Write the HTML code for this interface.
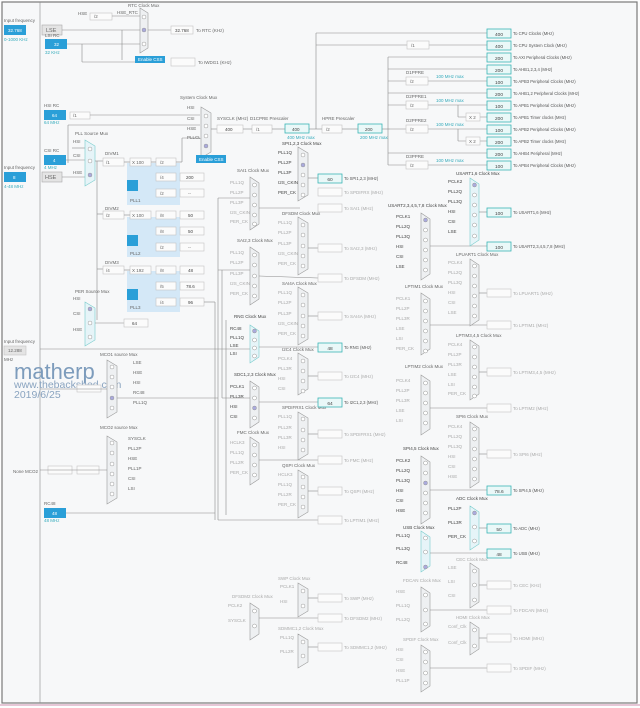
<!DOCTYPE html>
<html><head><meta charset="utf-8"><style>
html,body{margin:0;padding:0;background:#fff}
svg{display:block}
text{font-family:"Liberation Sans",sans-serif;font-size:4.5px;fill:#666}
.m{fill:#eef0f2;stroke:#999;stroke-width:.6}
.mh{fill:#e6f4f8;stroke:#7cc;stroke-width:.6}
.l{stroke:#8a8a8a;stroke-width:.6;fill:none}
.lf{stroke:#bbb;stroke-width:.5;fill:none}
.o{fill:#fbfbfb;stroke:#c4c4c4;stroke-width:.6}
.c{fill:#eaf8f8;stroke:#3ab5b5;stroke-width:.8}
.b{fill:#2a9fd8}
.g{fill:#e4e4e4;stroke:#aaa;stroke-width:.6}
.p{fill:#d4e8f7}
.ci{fill:#fff;stroke:#999;stroke-width:.5}
.t{font-size:4.2px;fill:#555}
.tc{font-size:4.8px;fill:#444;text-anchor:middle}
</style></head><body>
<svg width="640" height="708" viewBox="0 0 640 708" xmlns="http://www.w3.org/2000/svg">
<rect x="0" y="0" width="640" height="708" fill="#fdfdfd"/>
<rect x="2" y="2" width="635" height="701" fill="#f7f8f9" stroke="#7a7a7a" stroke-width="1.2"/>
<line x1="0" y1="705" x2="640" y2="705" stroke="#e6c6d6" stroke-width="2"/>
<line x1="40" y1="2" x2="40" y2="703" class="l"/>

<!-- left inputs -->
<text x="4" y="22">Input frequency</text>
<rect x="4" y="25" width="22" height="10" class="b"/><text x="8" y="32" style="fill:#fff">32.768</text>
<text x="4" y="41" style="fill:#3ab">0-1000 KHz</text>
<rect x="42" y="25" width="20" height="10" class="g"/><text x="46" y="32" style="font-size:5.5px">LSE</text>
<text x="45" y="37">LSI RC</text>
<rect x="45" y="39" width="22" height="10" class="b"/><text x="54" y="46" style="fill:#fff">32</text>
<text x="45" y="54" style="fill:#3ab">32 KHz</text>
<line x1="62" y1="30" x2="140" y2="30" class="l"/>
<line x1="67" y1="44" x2="140" y2="44" class="l"/>
<line x1="82" y1="44" x2="82" y2="62" class="l"/><line x1="82" y1="62" x2="135" y2="62" class="l"/>
<line x1="122" y1="30" x2="122" y2="60" class="l"/>

<!-- RTC -->
<text x="128" y="7">RTC Clock Mux</text>
<text x="78" y="15">HSE</text>
<rect x="90" y="13" width="22" height="7" class="o"/><text x="94" y="18">/2</text>
<text x="117" y="14">HSE_RTC</text>
<line x1="112" y1="16" x2="140" y2="16" class="l"/>
<polygon points="140,8 148,13 148,48 140,53" class="m"/>
<circle cx="144" cy="17" r="2" class="ci"/><circle cx="144" cy="30" r="2" class="ci" style="fill:#aad"/><circle cx="144" cy="44" r="2" class="ci"/>
<line x1="148" y1="30" x2="171" y2="30" class="l"/>
<rect x="171" y="26" width="22" height="8" class="o"/><text x="175" y="32" style="fill:#444">32.768</text>
<text x="196" y="32">To RTC (KHz)</text>
<rect x="135" y="56" width="30" height="7" class="b"/><text x="138" y="61" style="fill:#fff">Enable CSS</text>
<rect x="171" y="58" width="24" height="8" class="o"/><text x="198" y="64">To IWDG1 (KHz)</text>

<!-- HSI/CSI/HSE -->
<text x="44" y="107">HSI RC</text>
<rect x="44" y="110" width="22" height="10" class="b"/><text x="52" y="117" style="fill:#fff">64</text>
<text x="44" y="124" style="fill:#3ab">64 MHz</text>
<rect x="70" y="112" width="20" height="7" class="o"/><text x="73" y="117">/1</text>
<line x1="90" y1="115" x2="200" y2="115" class="l"/>
<line x1="68" y1="125" x2="200" y2="125" class="l"/><line x1="68" y1="125" x2="68" y2="163" class="l"/>
<text x="44" y="152">CSI RC</text>
<rect x="44" y="155" width="22" height="10" class="b"/><text x="53" y="162" style="fill:#fff">4</text>
<text x="44" y="169" style="fill:#3ab">4 MHz</text>
<text x="4" y="169">Input frequency</text>
<rect x="4" y="172" width="22" height="10" class="b"/><text x="13" y="179" style="fill:#fff">8</text>
<text x="4" y="188" style="fill:#3ab">4-48 MHz</text>
<rect x="42" y="172" width="20" height="10" class="g"/><text x="45" y="179" style="font-size:5.5px">HSE</text>
<line x1="62" y1="177" x2="85" y2="177" class="l"/>
<line x1="66" y1="160" x2="85" y2="160" class="l"/>

<!-- PLL source mux -->
<text x="75" y="135">PLL Source Mux</text>
<text x="73" y="143">HSI</text><text x="73" y="157">CSI</text><text x="73" y="174">HSE</text>
<line x1="72" y1="148" x2="85" y2="148" class="l"/>
<polygon points="85,140 95,146 95,180 85,186" class="mh"/>
<circle cx="90" cy="149" r="2" class="ci"/><circle cx="90" cy="161" r="2" class="ci"/><circle cx="90" cy="175" r="2" class="ci" style="fill:#aad"/>
<line x1="95" y1="161" x2="103" y2="161" class="l"/>
<line x1="97" y1="161" x2="97" y2="320" class="l"/>
<line x1="97" y1="214" x2="103" y2="214" class="l"/><line x1="97" y1="269" x2="103" y2="269" class="l"/>

<!-- PLL blocks -->
<rect x="127" y="163" width="53" height="42" class="p"/>
<rect x="127" y="217" width="53" height="40" class="p"/>
<rect x="127" y="271" width="53" height="41" class="p"/>
<rect x="127" y="180" width="11" height="11" class="b"/><rect x="127" y="235" width="11" height="11" class="b"/><rect x="127" y="289" width="11" height="11" class="b"/>
<text x="130" y="202">PLL1</text><text x="130" y="255">PLL2</text><text x="130" y="309">PLL3</text>
<text x="105" y="155">DIVM1</text><text x="105" y="210">DIVM2</text><text x="105" y="264">DIVM3</text>
<rect x="103" y="158" width="21" height="8" class="o"/><text x="106" y="164">/1</text>
<rect x="103" y="211" width="21" height="8" class="o"/><text x="106" y="217">/2</text>
<rect x="103" y="266" width="21" height="8" class="o"/><text x="106" y="272">/4</text>
<rect x="130" y="158" width="21" height="8" class="o"/><text x="132" y="164">X 100</text>
<rect x="130" y="211" width="21" height="8" class="o"/><text x="132" y="217">X 100</text>
<rect x="130" y="266" width="21" height="8" class="o"/><text x="132" y="272">X 192</text>
<line x1="124" y1="162" x2="130" y2="162" class="l"/><line x1="124" y1="215" x2="130" y2="215" class="l"/><line x1="124" y1="270" x2="130" y2="270" class="l"/>
<g>
<rect x="156" y="158" width="20" height="8" class="o"/><text x="160" y="164">/2</text>
<rect x="156" y="173" width="20" height="8" class="o"/><text x="160" y="179">/4</text>
<rect x="156" y="189" width="20" height="8" class="o"/><text x="160" y="195">/2</text>
<rect x="180" y="173" width="24" height="8" class="o"/><text x="186" y="179" style="fill:#444">200</text>
<rect x="180" y="189" width="24" height="8" class="o"/><text x="188" y="195">--</text>
<rect x="156" y="211" width="20" height="8" class="o"/><text x="160" y="217">/8</text>
<rect x="156" y="227" width="20" height="8" class="o"/><text x="160" y="233">/8</text>
<rect x="156" y="243" width="20" height="8" class="o"/><text x="160" y="249">/2</text>
<rect x="180" y="211" width="24" height="8" class="o"/><text x="188" y="217" style="fill:#444">50</text>
<rect x="180" y="227" width="24" height="8" class="o"/><text x="188" y="233" style="fill:#444">50</text>
<rect x="180" y="243" width="24" height="8" class="o"/><text x="188" y="249">--</text>
<rect x="156" y="266" width="20" height="8" class="o"/><text x="160" y="272">/8</text>
<rect x="156" y="282" width="20" height="8" class="o"/><text x="160" y="288">/5</text>
<rect x="156" y="298" width="20" height="8" class="o"/><text x="160" y="304">/4</text>
<rect x="180" y="266" width="24" height="8" class="o"/><text x="188" y="272" style="fill:#444">48</text>
<rect x="180" y="282" width="24" height="8" class="o"/><text x="186" y="288" style="fill:#444">78.6</text>
<rect x="180" y="298" width="24" height="8" class="o"/><text x="188" y="304" style="fill:#444">96</text>
</g>
<line x1="151" y1="162" x2="156" y2="162" class="l"/><line x1="176" y1="162" x2="182" y2="162" class="l"/>
<line x1="182" y1="162" x2="182" y2="138" class="l"/><line x1="182" y1="138" x2="200" y2="138" class="l"/>
<line x1="204" y1="302" x2="215" y2="302" class="l"/><line x1="215" y1="302" x2="215" y2="520" class="l"/>

<!-- PER source -->
<text x="75" y="293">PER Source Mux</text>
<text x="73" y="300">HSI</text><text x="73" y="315">CSI</text><text x="73" y="331">HSE</text>
<polygon points="85,302 95,308 95,340 85,346" class="mh"/>
<circle cx="90" cy="309" r="2" class="ci" style="fill:#aad"/><circle cx="90" cy="323" r="2" class="ci"/><circle cx="90" cy="337" r="2" class="ci"/>
<line x1="95" y1="323" x2="124" y2="323" class="l"/>
<rect x="124" y="319" width="24" height="8" class="o"/><text x="132" y="325" style="fill:#444">64</text>
<text x="4" y="343">Input frequency</text>
<rect x="4" y="346" width="22" height="9" class="o" style="fill:#e4e4e4"/><text x="8" y="352">12.288</text>
<text x="4" y="361">MHz</text>
<line x1="40" y1="349" x2="218" y2="349" class="l"/>

<!-- watermark -->
<text x="14" y="379" style="font-size:22px;fill:#7d9cbc">matherp</text>
<text x="14" y="388" style="font-size:10.5px;fill:#8aa4c0">www.thebackshed.com</text>
<text x="14" y="398" style="font-size:10.5px;fill:#8aa4c0">2019/6/25</text>

<!-- MCO1 -->
<text x="100" y="356">MCO1 source Mux</text>
<polygon points="107,360 117,366 117,412 107,418" class="m"/>
<circle cx="112" cy="367" r="2" class="ci"/><circle cx="112" cy="377" r="2" class="ci"/><circle cx="112" cy="387" r="2" class="ci"/><circle cx="112" cy="398" r="2" class="ci" style="fill:#aad"/><circle cx="112" cy="408" r="2" class="ci"/>
<text x="133" y="364">LSE</text><text x="133" y="374">HSE</text><text x="133" y="384">HSI</text><text x="133" y="394">RC48</text><text x="133" y="404">PLL1Q</text>
<line x1="117" y1="398" x2="218" y2="398" class="l"/>
<rect x="77" y="385" width="24" height="7" class="o"/><line x1="40" y1="389" x2="107" y2="389" class="l"/>
<!-- MCO2 -->
<text x="100" y="429">MCO2 source Mux</text>
<polygon points="107,436 117,442 117,498 107,504" class="m"/>
<circle cx="112" cy="443" r="2" class="ci"/><circle cx="112" cy="453" r="2" class="ci"/><circle cx="112" cy="464" r="2" class="ci"/><circle cx="112" cy="474" r="2" class="ci"/><circle cx="112" cy="484" r="2" class="ci"/><circle cx="112" cy="494" r="2" class="ci"/>
<text x="128" y="440">SYSCLK</text><text x="128" y="450">PLL2P</text><text x="128" y="460">HSE</text><text x="128" y="470">PLL1P</text><text x="128" y="480">CSI</text><text x="128" y="490">LSI</text>
<text x="13" y="473">None MCO2</text>
<rect x="48" y="466" width="24" height="8" class="o"/><rect x="77" y="466" width="22" height="8" class="o"/>
<line x1="40" y1="470" x2="107" y2="470" class="l"/>

<!-- RC48 -->
<text x="44" y="505">RC48</text>
<rect x="44" y="508" width="22" height="10" class="b"/><text x="52" y="515" style="fill:#fff">48</text>
<text x="44" y="522" style="fill:#3ab">48 MHz</text>
<line x1="66" y1="513" x2="215" y2="513" class="l"/>

<!-- System clock mux -->
<text x="180" y="99">System Clock Mux</text>
<text x="187" y="109">HSI</text><text x="187" y="120">CSI</text><text x="187" y="130">HSE</text><text x="187" y="139">PLLCLK</text>
<polygon points="201,107 211,113 211,152 201,158" class="m"/>
<circle cx="206" cy="116" r="2" class="ci"/><circle cx="206" cy="126" r="2" class="ci"/><circle cx="206" cy="136" r="2" class="ci"/><circle cx="206" cy="146" r="2" class="ci" style="fill:#aad"/>
<rect x="196" y="155" width="30" height="8" class="b"/><text x="199" y="161" style="fill:#fff">Enable CSS</text>
<line x1="211" y1="129" x2="217" y2="129" class="l"/>
<text x="217" y="120">SYSCLK (MHz)</text>
<rect x="217" y="125" width="26" height="8" class="o"/><text x="225" y="131" style="fill:#444">400</text>
<text x="250" y="120">D1CPRE Prescaler</text>
<rect x="252" y="125" width="20" height="8" class="o"/><text x="256" y="131">/1</text>
<rect x="285" y="124" width="24" height="9" class="c"/><text x="292" y="131" style="fill:#444">400</text>
<text x="287" y="139" style="fill:#3ab">400 MHz max</text>
<text x="322" y="120">HPRE Prescaler</text>
<rect x="322" y="125" width="20" height="8" class="o"/><text x="326" y="131">/2</text>
<rect x="358" y="124" width="24" height="9" class="c"/><text x="365" y="131" style="fill:#444">200</text>
<text x="360" y="139" style="fill:#3ab">200 MHz max</text>
<line x1="243" y1="129" x2="252" y2="129" class="l"/><line x1="272" y1="129" x2="285" y2="129" class="l"/>
<line x1="309" y1="129" x2="322" y2="129" class="l"/><line x1="342" y1="129" x2="358" y2="129" class="l"/>
<line x1="316" y1="129" x2="316" y2="33" class="l"/><line x1="316" y1="33" x2="487" y2="33" class="l"/>
<line x1="316" y1="45" x2="487" y2="45" class="l"/>
<rect x="407" y="41" width="22" height="8" class="o"/><text x="411" y="47">/1</text>
<line x1="382" y1="129" x2="390" y2="129" class="l"/>
<line x1="388" y1="57" x2="388" y2="165" class="l"/>

<!-- right output column -->
<g>
<line x1="388" y1="57" x2="487" y2="57" class="l"/><line x1="388" y1="69" x2="487" y2="69" class="l"/>
<line x1="388" y1="81" x2="487" y2="81" class="l"/><line x1="388" y1="93" x2="487" y2="93" class="l"/>
<line x1="388" y1="105" x2="487" y2="105" class="l"/><line x1="458" y1="117" x2="487" y2="117" class="l"/>
<line x1="390" y1="129" x2="487" y2="129" class="l"/><line x1="458" y1="141" x2="487" y2="141" class="l"/>
<line x1="388" y1="153" x2="487" y2="153" class="l"/><line x1="388" y1="165" x2="487" y2="165" class="l"/>
<line x1="458" y1="105" x2="458" y2="117" class="l"/><line x1="458" y1="129" x2="458" y2="141" class="l"/>
<text x="406" y="74">D1PPRE</text><rect x="406" y="77" width="22" height="8" class="o"/><text x="410" y="83">/2</text><text x="436" y="78" style="fill:#3ab">100 MHz max</text>
<text x="406" y="98">D2PPRE1</text><rect x="406" y="101" width="22" height="8" class="o"/><text x="410" y="107">/2</text><text x="436" y="102" style="fill:#3ab">100 MHz max</text>
<text x="406" y="122">D2PPRE2</text><rect x="406" y="125" width="22" height="8" class="o"/><text x="410" y="131">/2</text><text x="436" y="126" style="fill:#3ab">100 MHz max</text>
<text x="406" y="158">D3PPRE</text><rect x="406" y="161" width="22" height="8" class="o"/><text x="410" y="167">/2</text><text x="436" y="162" style="fill:#3ab">100 MHz max</text>
<rect x="466" y="113" width="14" height="8" class="o"/><text x="469" y="119">X 2</text>
<rect x="466" y="137" width="14" height="8" class="o"/><text x="469" y="143">X 2</text>
</g>
<g>
<rect x="487" y="29" width="24" height="9" class="c"/><text x="499" y="36" class="tc">400</text><text x="513" y="35" class="t">To CPU Clocks (MHz)</text>
<rect x="487" y="41" width="24" height="9" class="c"/><text x="499" y="48" class="tc">400</text><text x="513" y="47" class="t">To CPU System Clock (MHz)</text>
<rect x="487" y="53" width="24" height="9" class="c"/><text x="499" y="60" class="tc">200</text><text x="513" y="59" class="t">To AXI Peripheral Clocks (MHz)</text>
<rect x="487" y="65" width="24" height="9" class="c"/><text x="499" y="72" class="tc">200</text><text x="513" y="71" class="t">To AHB1,2,3,4 (MHz)</text>
<rect x="487" y="77" width="24" height="9" class="c"/><text x="499" y="84" class="tc">100</text><text x="513" y="83" class="t">To APB3 Peripheral Clocks (MHz)</text>
<rect x="487" y="89" width="24" height="9" class="c"/><text x="499" y="96" class="tc">200</text><text x="513" y="95" class="t">To AHB1,2 Peripheral Clocks (MHz)</text>
<rect x="487" y="101" width="24" height="9" class="c"/><text x="499" y="108" class="tc">100</text><text x="513" y="107" class="t">To APB1 Peripheral Clocks (MHz)</text>
<rect x="487" y="113" width="24" height="9" class="c"/><text x="499" y="120" class="tc">200</text><text x="513" y="119" class="t">To APB1 Timer clocks (MHz)</text>
<rect x="487" y="125" width="24" height="9" class="c"/><text x="499" y="132" class="tc">100</text><text x="513" y="131" class="t">To APB2 Peripheral Clocks (MHz)</text>
<rect x="487" y="137" width="24" height="9" class="c"/><text x="499" y="144" class="tc">200</text><text x="513" y="143" class="t">To APB2 Timer clocks (MHz)</text>
<rect x="487" y="149" width="24" height="9" class="c"/><text x="499" y="156" class="tc">200</text><text x="513" y="155" class="t">To AHB4 Peripheral (MHz)</text>
<rect x="487" y="161" width="24" height="9" class="c"/><text x="499" y="168" class="tc">100</text><text x="513" y="167" class="t">To APB4 Peripheral Clocks (MHz)</text>
</g>

<!-- bus lines on left of peripheral area -->
<line x1="218" y1="198" x2="218" y2="520" class="l"/>
<line x1="222" y1="270" x2="222" y2="398" class="l"/>
<line x1="218" y1="198" x2="250" y2="198" class="l"/>
<line x1="218" y1="270" x2="250" y2="270" class="l"/>
<line x1="218" y1="349" x2="250" y2="349" class="l"/>
<line x1="222" y1="398" x2="250" y2="398" class="l"/>
<line x1="218" y1="520" x2="318" y2="520" class="l"/>
<line x1="226" y1="320" x2="226" y2="515" class="l"/>

<!-- Column A muxes x=250 -->
<g>
<text x="237" y="172">SAI1 Clock Mux</text>
<polygon points="250,177 259,183 259,224 250,230" class="m"/>
<circle cx="254.5" cy="185" r="2" class="ci"/><circle cx="254.5" cy="195" r="2" class="ci"/><circle cx="254.5" cy="205" r="2" class="ci"/><circle cx="254.5" cy="215" r="2" class="ci"/><circle cx="254.5" cy="224" r="2" class="ci"/>
<text x="230" y="184" style="fill:#aaa">PLL1Q</text><text x="230" y="194" style="fill:#aaa">PLL2P</text><text x="230" y="204" style="fill:#aaa">PLL3P</text><text x="230" y="214" style="fill:#aaa">I2S_CKIN</text><text x="230" y="223" style="fill:#aaa">PER_CK</text>
<line x1="259" y1="208" x2="300" y2="208" class="l"/>
<text x="237" y="242">SAI2,3 Clock Mux</text>
<polygon points="250,247 259,253 259,299 250,305" class="m"/>
<circle cx="254.5" cy="255" r="2" class="ci"/><circle cx="254.5" cy="265" r="2" class="ci"/><circle cx="254.5" cy="276" r="2" class="ci"/><circle cx="254.5" cy="286" r="2" class="ci"/><circle cx="254.5" cy="296" r="2" class="ci"/>
<text x="230" y="254" style="fill:#aaa">PLL1Q</text><text x="230" y="264" style="fill:#aaa">PLL2P</text><text x="230" y="275" style="fill:#aaa">PLL3P</text><text x="230" y="285" style="fill:#aaa">I2S_CKIN</text><text x="230" y="295" style="fill:#aaa">PER_CK</text>
<line x1="259" y1="276" x2="318" y2="278" class="l"/>
<text x="234" y="318" style="fill:#444">RNG Clock Mux</text>
<polygon points="250,325 259,331 259,357 250,363" class="mh"/>
<circle cx="254.5" cy="331" r="2" class="ci" style="fill:#aad"/><circle cx="254.5" cy="340" r="2" class="ci"/><circle cx="254.5" cy="348" r="2" class="ci"/><circle cx="254.5" cy="356" r="2" class="ci"/>
<text x="230" y="330" style="fill:#444">RC48</text><text x="230" y="339" style="fill:#444">PLL1Q</text><text x="230" y="347" style="fill:#444">LSE</text><text x="230" y="355" style="fill:#444">LSI</text>
<line x1="259" y1="347" x2="318" y2="347" class="l"/>
<text x="234" y="376" style="fill:#444">SDC1,2,3 Clock Mux</text>
<polygon points="250,381 259,387 259,422 250,428" class="m"/>
<circle cx="254.5" cy="388" r="2" class="ci"/><circle cx="254.5" cy="398" r="2" class="ci"/><circle cx="254.5" cy="408" r="2" class="ci" style="fill:#aad"/><circle cx="254.5" cy="418" r="2" class="ci"/>
<text x="230" y="388" style="fill:#444">PCLK1</text><text x="230" y="398" style="fill:#444">PLL3R</text><text x="230" y="408" style="fill:#444">HSI</text><text x="230" y="418" style="fill:#444">CSI</text>
<line x1="259" y1="402" x2="318" y2="402" class="l"/>
<text x="237" y="434">FMC Clock Mux</text>
<polygon points="250,437 259,443 259,479 250,485" class="m"/>
<circle cx="254.5" cy="445" r="2" class="ci"/><circle cx="254.5" cy="455" r="2" class="ci"/><circle cx="254.5" cy="465" r="2" class="ci"/><circle cx="254.5" cy="475" r="2" class="ci"/>
<text x="230" y="444" style="fill:#aaa">HCLK3</text><text x="230" y="454" style="fill:#aaa">PLL1Q</text><text x="230" y="464" style="fill:#aaa">PLL2R</text><text x="230" y="474" style="fill:#aaa">PER_CK</text>
<line x1="259" y1="460" x2="318" y2="460" class="l"/>
</g>

<!-- Column B muxes x=298 -->
<g>
<text x="282" y="145" style="fill:#444">SPI1,2,3 Clock Mux</text>
<polygon points="298,147 308,153 308,195 298,201" class="m"/>
<circle cx="303" cy="155" r="2" class="ci"/><circle cx="303" cy="165" r="2" class="ci" style="fill:#aad"/><circle cx="303" cy="175" r="2" class="ci"/><circle cx="303" cy="185" r="2" class="ci"/><circle cx="303" cy="195" r="2" class="ci"/>
<text x="278" y="154" style="fill:#444">PLL1Q</text><text x="278" y="164" style="fill:#444">PLL2P</text><text x="278" y="174" style="fill:#444">PLL3P</text><text x="278" y="184" style="fill:#444">I2S_CKIN</text><text x="278" y="194" style="fill:#444">PER_CK</text>
<line x1="308" y1="178" x2="318" y2="178" class="l"/>
<text x="282" y="215">DFSDM Clock Mux</text>
<polygon points="298,217 308,223 308,269 298,275" class="m"/>
<circle cx="303" cy="225" r="2" class="ci"/><circle cx="303" cy="235" r="2" class="ci"/><circle cx="303" cy="246" r="2" class="ci"/><circle cx="303" cy="256" r="2" class="ci"/><circle cx="303" cy="266" r="2" class="ci"/>
<text x="278" y="224" style="fill:#aaa">PLL1Q</text><text x="278" y="234" style="fill:#aaa">PLL2P</text><text x="278" y="245" style="fill:#aaa">PLL3P</text><text x="278" y="255" style="fill:#aaa">I2S_CKIN</text><text x="278" y="265" style="fill:#aaa">PER_CK</text>
<line x1="308" y1="248" x2="318" y2="248" class="l"/>
<text x="282" y="285">SAI4A Clock Mux</text>
<polygon points="298,287 308,293 308,339 298,345" class="m"/>
<circle cx="303" cy="295" r="2" class="ci"/><circle cx="303" cy="305" r="2" class="ci"/><circle cx="303" cy="316" r="2" class="ci"/><circle cx="303" cy="326" r="2" class="ci"/><circle cx="303" cy="336" r="2" class="ci"/>
<text x="278" y="294" style="fill:#aaa">PLL1Q</text><text x="278" y="304" style="fill:#aaa">PLL2P</text><text x="278" y="315" style="fill:#aaa">PLL3P</text><text x="278" y="325" style="fill:#aaa">I2S_CKIN</text><text x="278" y="335" style="fill:#aaa">PER_CK</text>
<line x1="308" y1="316" x2="318" y2="316" class="l"/>
<text x="282" y="351">I2C4 Clock Mux</text>
<polygon points="298,353 308,359 308,389 298,395" class="m"/>
<circle cx="303" cy="361" r="2" class="ci"/><circle cx="303" cy="371" r="2" class="ci"/><circle cx="303" cy="381" r="2" class="ci"/><circle cx="303" cy="391" r="2" class="ci"/>
<text x="278" y="360" style="fill:#aaa">PCLK4</text><text x="278" y="370" style="fill:#aaa">PLL3R</text><text x="278" y="380" style="fill:#aaa">HSI</text><text x="278" y="390" style="fill:#aaa">CSI</text>
<line x1="308" y1="376" x2="318" y2="376" class="l"/>
<text x="282" y="409">SPDIFRX1 Clock Mux</text>
<polygon points="298,412 308,418 308,454 298,460" class="m"/>
<circle cx="303" cy="419" r="2" class="ci"/><circle cx="303" cy="430" r="2" class="ci"/><circle cx="303" cy="440" r="2" class="ci"/><circle cx="303" cy="450" r="2" class="ci"/>
<text x="278" y="418" style="fill:#aaa">PLL1Q</text><text x="278" y="429" style="fill:#aaa">PLL2R</text><text x="278" y="439" style="fill:#aaa">PLL3R</text><text x="278" y="449" style="fill:#aaa">HSI</text>
<line x1="308" y1="434" x2="318" y2="434" class="l"/>
<text x="282" y="467">QSPI Clock Mux</text>
<polygon points="298,470 308,476 308,512 298,518" class="m"/>
<circle cx="303" cy="477" r="2" class="ci"/><circle cx="303" cy="487" r="2" class="ci"/><circle cx="303" cy="497" r="2" class="ci"/><circle cx="303" cy="507" r="2" class="ci"/>
<text x="278" y="476" style="fill:#aaa">HCLK3</text><text x="278" y="486" style="fill:#aaa">PLL1Q</text><text x="278" y="496" style="fill:#aaa">PLL2R</text><text x="278" y="506" style="fill:#aaa">PER_CK</text>
<line x1="308" y1="491" x2="318" y2="491" class="l"/>
</g>
<!-- column B outputs -->
<g>
<rect x="318" y="174" width="24" height="9" class="c"/><text x="330" y="181" class="tc">60</text><text x="344" y="180" class="t">To SPI1,2,3 (MHz)</text>
<rect x="318" y="188" width="24" height="8" class="o"/><text x="344" y="194" style="fill:#aaa">To SPDIFRX (MHz)</text>
<rect x="318" y="204" width="24" height="8" class="o"/><text x="344" y="210" style="fill:#aaa">To SAI1 (MHz)</text>
<rect x="318" y="244" width="24" height="8" class="o"/><text x="344" y="250" style="fill:#aaa">To SAI2,3 (MHz)</text>
<rect x="318" y="274" width="24" height="8" class="o"/><text x="344" y="280" style="fill:#aaa">To DFSDM (MHz)</text>
<rect x="318" y="312" width="24" height="8" class="o"/><text x="344" y="318" style="fill:#aaa">To SAI4A (MHz)</text>
<rect x="318" y="343" width="24" height="9" class="c"/><text x="330" y="350" class="tc">48</text><text x="344" y="349" class="t">To RNG (MHz)</text>
<rect x="318" y="372" width="24" height="8" class="o"/><text x="344" y="378" style="fill:#aaa">To I2C4 (MHz)</text>
<rect x="318" y="398" width="24" height="9" class="c"/><text x="330" y="405" class="tc">64</text><text x="344" y="404" class="t">To I2C1,2,3 (MHz)</text>
<rect x="318" y="430" width="24" height="8" class="o"/><text x="344" y="436" style="fill:#aaa">To SPDIFRX1 (MHz)</text>
<rect x="318" y="456" width="24" height="8" class="o"/><text x="344" y="462" style="fill:#aaa">To FMC (MHz)</text>
<rect x="318" y="487" width="24" height="8" class="o"/><text x="344" y="493" style="fill:#aaa">To QSPI (MHz)</text>
<rect x="318" y="516" width="24" height="8" class="o"/><text x="344" y="522" style="fill:#aaa">To LPTIM1 (MHz)</text>
</g>

<!-- bottom left muxes -->
<g>
<text x="232" y="598" style="fill:#aaa">DFSDM2 Clock Mux</text>
<polygon points="250,603 259,609 259,634 250,640" class="m"/>
<circle cx="254.5" cy="611" r="2" class="ci"/><circle cx="254.5" cy="626" r="2" class="ci"/>
<text x="228" y="607" style="fill:#aaa">PCLK2</text><text x="228" y="622" style="fill:#aaa">SYSCLK</text>
<line x1="259" y1="618" x2="318" y2="618" class="l"/>
<text x="278" y="580" style="fill:#aaa">SWP Clock Mux</text>
<polygon points="298,583 308,589 308,611 298,617" class="m"/>
<circle cx="303" cy="591" r="2" class="ci"/><circle cx="303" cy="606" r="2" class="ci"/>
<text x="280" y="588" style="fill:#aaa">PCLK1</text><text x="280" y="603" style="fill:#aaa">HSI</text>
<line x1="308" y1="598" x2="318" y2="598" class="l"/>
<text x="278" y="630" style="fill:#aaa">SDMMC1,2 Clock Mux</text>
<polygon points="298,634 308,640 308,662 298,668" class="m"/>
<circle cx="303" cy="642" r="2" class="ci"/><circle cx="303" cy="656" r="2" class="ci"/>
<text x="280" y="639" style="fill:#aaa">PLL1Q</text><text x="280" y="653" style="fill:#aaa">PLL2R</text>
<line x1="308" y1="647" x2="318" y2="647" class="l"/>
<rect x="318" y="594" width="24" height="8" class="o"/><text x="344" y="600" style="fill:#aaa">To SWP (MHz)</text>
<rect x="318" y="614" width="24" height="8" class="o"/><text x="344" y="620" style="fill:#aaa">To DFSDM2 (MHz)</text>
<rect x="318" y="643" width="24" height="8" class="o"/><text x="344" y="649" style="fill:#aaa">To SDMMC1,2 (MHz)</text>
</g>

<!-- Column C muxes x=421 -->
<g>
<text x="388" y="207" style="fill:#444">USART2,3,4,5,7,8 Clock Mux</text>
<polygon points="421,213 430,219 430,274 421,280" class="m"/>
<circle cx="425.5" cy="220" r="2" class="ci" style="fill:#aad"/><circle cx="425.5" cy="230" r="2" class="ci"/><circle cx="425.5" cy="240" r="2" class="ci"/><circle cx="425.5" cy="250" r="2" class="ci"/><circle cx="425.5" cy="260" r="2" class="ci"/><circle cx="425.5" cy="270" r="2" class="ci"/>
<text x="396" y="218" style="fill:#444">PCLK1</text><text x="396" y="228" style="fill:#444">PLL2Q</text><text x="396" y="238" style="fill:#444">PLL3Q</text><text x="396" y="248" style="fill:#444">HSI</text><text x="396" y="258" style="fill:#444">CSI</text><text x="396" y="268" style="fill:#444">LSE</text>
<line x1="430" y1="246" x2="487" y2="246" class="l"/>
<text x="405" y="288">LPTIM1 Clock Mux</text>
<polygon points="421,293 430,299 430,349 421,355" class="m"/>
<circle cx="425.5" cy="301" r="2" class="ci"/><circle cx="425.5" cy="311" r="2" class="ci"/><circle cx="425.5" cy="321" r="2" class="ci"/><circle cx="425.5" cy="331" r="2" class="ci"/><circle cx="425.5" cy="341" r="2" class="ci"/><circle cx="425.5" cy="351" r="2" class="ci"/>
<text x="396" y="300" style="fill:#aaa">PCLK1</text><text x="396" y="310" style="fill:#aaa">PLL2P</text><text x="396" y="320" style="fill:#aaa">PLL3R</text><text x="396" y="330" style="fill:#aaa">LSE</text><text x="396" y="340" style="fill:#aaa">LSI</text><text x="396" y="350" style="fill:#aaa">PER_CK</text>
<line x1="430" y1="325" x2="487" y2="325" class="l"/>
<text x="405" y="368">LPTIM2 Clock Mux</text>
<polygon points="421,375 430,381 430,429 421,435" class="m"/>
<circle cx="425.5" cy="383" r="2" class="ci"/><circle cx="425.5" cy="393" r="2" class="ci"/><circle cx="425.5" cy="403" r="2" class="ci"/><circle cx="425.5" cy="413" r="2" class="ci"/><circle cx="425.5" cy="423" r="2" class="ci"/>
<text x="396" y="382" style="fill:#aaa">PCLK4</text><text x="396" y="392" style="fill:#aaa">PLL2P</text><text x="396" y="402" style="fill:#aaa">PLL3R</text><text x="396" y="412" style="fill:#aaa">LSE</text><text x="396" y="422" style="fill:#aaa">LSI</text>
<line x1="430" y1="408" x2="487" y2="408" class="l"/>
<text x="403" y="450" style="fill:#444">SPI4,5 Clock Mux</text>
<polygon points="421,456 430,462 430,518 421,524" class="m"/>
<circle cx="425.5" cy="463" r="2" class="ci"/><circle cx="425.5" cy="473" r="2" class="ci"/><circle cx="425.5" cy="483" r="2" class="ci" style="fill:#aad"/><circle cx="425.5" cy="493" r="2" class="ci"/><circle cx="425.5" cy="503" r="2" class="ci"/><circle cx="425.5" cy="513" r="2" class="ci"/>
<text x="396" y="462" style="fill:#444">PCLK2</text><text x="396" y="472" style="fill:#444">PLL2Q</text><text x="396" y="482" style="fill:#444">PLL3Q</text><text x="396" y="492" style="fill:#444">HSI</text><text x="396" y="502" style="fill:#444">CSI</text><text x="396" y="512" style="fill:#444">HSE</text>
<line x1="430" y1="490" x2="487" y2="490" class="l"/>
<text x="403" y="529" style="fill:#444">USB Clock Mux</text>
<polygon points="421,531 430,537 430,566 421,572" class="mh"/>
<circle cx="425.5" cy="538" r="2" class="ci"/><circle cx="425.5" cy="552" r="2" class="ci"/><circle cx="425.5" cy="567" r="2" class="ci" style="fill:#aad"/>
<text x="396" y="537" style="fill:#444">PLL1Q</text><text x="396" y="550" style="fill:#444">PLL3Q</text><text x="396" y="564" style="fill:#444">RC48</text>
<line x1="430" y1="553" x2="487" y2="553" class="l"/>
<text x="403" y="582" style="fill:#aaa">FDCAN Clock Mux</text>
<polygon points="421,587 430,593 430,626 421,632" class="m"/>
<circle cx="425.5" cy="595" r="2" class="ci"/><circle cx="425.5" cy="610" r="2" class="ci"/><circle cx="425.5" cy="624" r="2" class="ci"/>
<text x="396" y="593" style="fill:#aaa">HSE</text><text x="396" y="607" style="fill:#aaa">PLL1Q</text><text x="396" y="621" style="fill:#aaa">PLL2Q</text>
<line x1="430" y1="610" x2="487" y2="610" class="l"/>
<text x="403" y="641" style="fill:#aaa">SPDIF Clock Mux</text>
<polygon points="421,645 430,651 430,686 421,692" class="m"/>
<circle cx="425.5" cy="652" r="2" class="ci"/><circle cx="425.5" cy="662" r="2" class="ci"/><circle cx="425.5" cy="673" r="2" class="ci"/><circle cx="425.5" cy="683" r="2" class="ci"/>
<text x="396" y="651" style="fill:#aaa">HSI</text><text x="396" y="661" style="fill:#aaa">CSI</text><text x="396" y="672" style="fill:#aaa">HSE</text><text x="396" y="682" style="fill:#aaa">PLL1P</text>
<line x1="430" y1="668" x2="487" y2="668" class="l"/>
</g>

<!-- Column D muxes x=470 -->
<g>
<text x="456" y="175" style="fill:#444">USART1,6 Clock Mux</text>
<polygon points="470,178 479,184 479,240 470,246" class="mh"/>
<circle cx="474.5" cy="185" r="2" class="ci" style="fill:#aad"/><circle cx="474.5" cy="195" r="2" class="ci"/><circle cx="474.5" cy="205" r="2" class="ci"/><circle cx="474.5" cy="215" r="2" class="ci"/><circle cx="474.5" cy="225" r="2" class="ci"/><circle cx="474.5" cy="236" r="2" class="ci"/>
<text x="448" y="183" style="fill:#444">PCLK2</text><text x="448" y="193" style="fill:#444">PLL2Q</text><text x="448" y="203" style="fill:#444">PLL3Q</text><text x="448" y="213" style="fill:#444">HSI</text><text x="448" y="223" style="fill:#444">CSI</text><text x="448" y="233" style="fill:#444">LSE</text>
<line x1="479" y1="212" x2="487" y2="212" class="l"/>
<text x="456" y="256">LPUART1 Clock Mux</text>
<polygon points="470,259 479,265 479,320 470,326" class="m"/>
<circle cx="474.5" cy="266" r="2" class="ci"/><circle cx="474.5" cy="276" r="2" class="ci"/><circle cx="474.5" cy="286" r="2" class="ci"/><circle cx="474.5" cy="296" r="2" class="ci"/><circle cx="474.5" cy="306" r="2" class="ci"/><circle cx="474.5" cy="316" r="2" class="ci"/>
<text x="448" y="264" style="fill:#aaa">PCLK4</text><text x="448" y="274" style="fill:#aaa">PLL2Q</text><text x="448" y="284" style="fill:#aaa">PLL3Q</text><text x="448" y="294" style="fill:#aaa">HSI</text><text x="448" y="304" style="fill:#aaa">CSI</text><text x="448" y="314" style="fill:#aaa">LSE</text>
<line x1="479" y1="293" x2="487" y2="293" class="l"/>
<text x="456" y="337">LPTIM3,4,5 Clock Mux</text>
<polygon points="470,340 479,346 479,394 470,400" class="m"/>
<circle cx="474.5" cy="347" r="2" class="ci"/><circle cx="474.5" cy="357" r="2" class="ci"/><circle cx="474.5" cy="367" r="2" class="ci"/><circle cx="474.5" cy="377" r="2" class="ci"/><circle cx="474.5" cy="387" r="2" class="ci"/><circle cx="474.5" cy="396" r="2" class="ci"/>
<text x="448" y="346" style="fill:#aaa">PCLK4</text><text x="448" y="356" style="fill:#aaa">PLL2P</text><text x="448" y="366" style="fill:#aaa">PLL3R</text><text x="448" y="376" style="fill:#aaa">LSE</text><text x="448" y="386" style="fill:#aaa">LSI</text><text x="448" y="395" style="fill:#aaa">PER_CK</text>
<line x1="479" y1="372" x2="487" y2="372" class="l"/>
<text x="456" y="418">SPI6 Clock Mux</text>
<polygon points="470,422 479,428 479,482 470,488" class="m"/>
<circle cx="474.5" cy="429" r="2" class="ci"/><circle cx="474.5" cy="439" r="2" class="ci"/><circle cx="474.5" cy="449" r="2" class="ci"/><circle cx="474.5" cy="459" r="2" class="ci"/><circle cx="474.5" cy="469" r="2" class="ci"/><circle cx="474.5" cy="479" r="2" class="ci"/>
<text x="448" y="428" style="fill:#aaa">PCLK4</text><text x="448" y="438" style="fill:#aaa">PLL2Q</text><text x="448" y="448" style="fill:#aaa">PLL3Q</text><text x="448" y="458" style="fill:#aaa">HSI</text><text x="448" y="468" style="fill:#aaa">CSI</text><text x="448" y="478" style="fill:#aaa">HSE</text>
<line x1="479" y1="454" x2="487" y2="454" class="l"/>
<text x="456" y="500" style="fill:#444">ADC Clock Mux</text>
<polygon points="470,506 479,512 479,544 470,550" class="mh"/>
<circle cx="474.5" cy="513" r="2" class="ci" style="fill:#aad"/><circle cx="474.5" cy="527" r="2" class="ci"/><circle cx="474.5" cy="541" r="2" class="ci"/>
<text x="448" y="510" style="fill:#444">PLL2P</text><text x="448" y="524" style="fill:#444">PLL3R</text><text x="448" y="538" style="fill:#444">PER_CK</text>
<line x1="479" y1="528" x2="487" y2="528" class="l"/>
<text x="456" y="561" style="fill:#aaa">CEC Clock Mux</text>
<polygon points="470,563 479,569 479,602 470,608" class="m"/>
<circle cx="474.5" cy="571" r="2" class="ci"/><circle cx="474.5" cy="585" r="2" class="ci"/><circle cx="474.5" cy="600" r="2" class="ci"/>
<text x="448" y="569" style="fill:#aaa">LSE</text><text x="448" y="583" style="fill:#aaa">LSI</text><text x="448" y="597" style="fill:#aaa">CSI</text>
<line x1="479" y1="585" x2="487" y2="585" class="l"/>
<text x="456" y="619" style="fill:#aaa">HDMI Clock Mux</text>
<polygon points="470,622 479,628 479,649 470,655" class="m"/>
<circle cx="474.5" cy="630" r="2" class="ci"/><circle cx="474.5" cy="646" r="2" class="ci"/>
<text x="448" y="628" style="fill:#aaa">Conf_Clk</text><text x="448" y="644" style="fill:#aaa">Conf_Clk</text>
<line x1="479" y1="638" x2="487" y2="638" class="l"/>
</g>
<!-- column D outputs -->
<g>
<rect x="487" y="208" width="24" height="9" class="c"/><text x="499" y="215" class="tc">100</text><text x="513" y="214" class="t">To USART1,6 (MHz)</text>
<rect x="487" y="242" width="24" height="9" class="c"/><text x="499" y="249" class="tc">100</text><text x="513" y="248" class="t">To USART2,3,4,5,7,8 (MHz)</text>
<rect x="487" y="289" width="24" height="8" class="o"/><text x="513" y="295" style="fill:#aaa">To LPUART1 (MHz)</text>
<rect x="487" y="321" width="24" height="8" class="o"/><text x="513" y="327" style="fill:#aaa">To LPTIM1 (MHz)</text>
<rect x="487" y="368" width="24" height="8" class="o"/><text x="513" y="374" style="fill:#aaa">To LPTIM3,4,5 (MHz)</text>
<rect x="487" y="404" width="24" height="8" class="o"/><text x="513" y="410" style="fill:#aaa">To LPTIM2 (MHz)</text>
<rect x="487" y="450" width="24" height="8" class="o"/><text x="513" y="456" style="fill:#aaa">To SPI6 (MHz)</text>
<rect x="487" y="486" width="24" height="9" class="c"/><text x="499" y="493" class="tc">78.6</text><text x="513" y="492" class="t">To SPI4,5 (MHz)</text>
<rect x="487" y="524" width="24" height="9" class="c"/><text x="499" y="531" class="tc">50</text><text x="513" y="530" class="t">To ADC (MHz)</text>
<rect x="487" y="549" width="24" height="9" class="c"/><text x="499" y="556" class="tc">48</text><text x="513" y="555" class="t">To USB (MHz)</text>
<rect x="487" y="581" width="24" height="8" class="o"/><text x="513" y="587" style="fill:#aaa">To CEC (KHz)</text>
<rect x="487" y="606" width="24" height="8" class="o"/><text x="513" y="612" style="fill:#aaa">To FDCAN (MHz)</text>
<rect x="487" y="634" width="24" height="8" class="o"/><text x="513" y="640" style="fill:#aaa">To HDMI (MHz)</text>
<rect x="487" y="664" width="24" height="8" class="o"/><text x="513" y="670" style="fill:#aaa">To SPDIF (MHz)</text>
</g>
</svg>
</body></html>
